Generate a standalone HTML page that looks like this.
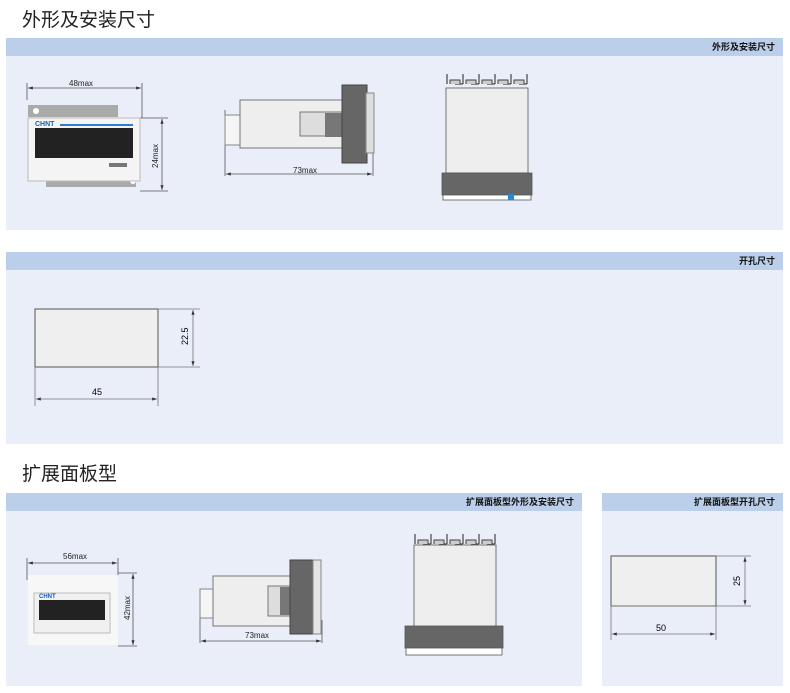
<!DOCTYPE html>
<html><head><meta charset="utf-8"><style>
*{margin:0;padding:0}
body{width:790px;height:693px;background:#fff;position:relative;overflow:hidden;font-family:"Liberation Sans","Noto Sans CJK SC",sans-serif}
.p{position:absolute;background:#e9eef8}
.h{position:absolute;left:0;right:0;top:0;height:18px;background:#bccfea;font-size:9px;font-weight:bold;text-align:right;padding-right:8px;line-height:18px;color:#111;box-sizing:border-box}
.t{position:absolute;font-size:19px;color:#222}
svg{position:absolute;left:0;top:0}
</style></head><body>
<div class="t" style="left:22px;top:5px">外形及安装尺寸</div>
<div class="p" style="left:6px;top:38px;width:777px;height:192px"><div class="h">外形及安装尺寸</div></div>
<div class="p" style="left:6px;top:252px;width:777px;height:192px"><div class="h">开孔尺寸</div></div>
<div class="t" style="left:22px;top:459px">扩展面板型</div>
<div class="p" style="left:6px;top:493px;width:576px;height:193px"><div class="h">扩展面板型外形及安装尺寸</div></div>
<div class="p" style="left:602px;top:493px;width:181px;height:193px"><div class="h">扩展面板型开孔尺寸</div></div>
<svg width="790" height="693" font-family="Liberation Sans, sans-serif" font-size="9">
<defs><marker id="a" markerWidth="6" markerHeight="4" refX="6" refY="2" orient="auto-start-reverse"><path d="M0,0L6,2L0,4z" fill="#333"/></marker>
<g id="pins"><path d="M0,12v-10M8,12h8M16,12v-10M24,12h8M32,12v-10M40,12h8M48,12v-10M56,12h8M64,12v-10M72,12h8M80,12v-10" stroke="#444" stroke-width="1.2" fill="none"/>
<path d="M3,12v-4h10v4M19,12v-4h10v4M35,12v-4h10v4M51,12v-4h10v4M67,12v-4h10v4" stroke="#444" fill="#ccc"/></g></defs>
<g stroke="#555" stroke-width="0.8" fill="none">
<line x1="27" y1="83" x2="27" y2="100"/><line x1="142" y1="83" x2="142" y2="118"/>
<line x1="28" y1="88" x2="141" y2="88" marker-start="url(#a)" marker-end="url(#a)"/>
<line x1="140" y1="118" x2="168" y2="118"/><line x1="140" y1="191" x2="168" y2="191"/>
<line x1="162" y1="119" x2="162" y2="190" marker-start="url(#a)" marker-end="url(#a)"/>
</g>
<path d="M28,105h90v12H28z M46,175h90v12H46z" fill="#aaa"/>
<circle cx="36" cy="111" r="3" fill="#fff"/><circle cx="133" cy="181" r="3" fill="#fff"/>
<rect x="28" y="118" width="112" height="63" fill="#f4f4f4" stroke="#bbb"/>
<rect x="35" y="128" width="98" height="30" fill="#222"/>
<rect x="60" y="124" width="73" height="2" fill="#2a7fd0"/>
<rect x="109" y="163" width="18" height="4" fill="#777"/>
<text x="35" y="126" font-size="7" font-weight="bold" fill="#1a5fb4">CHNT</text>
<text x="69" y="86" font-size="8" fill="#222">48max</text>
<text x="158" y="168" font-size="8" fill="#222" transform="rotate(-90 158 168)">24max</text>
<g stroke="#555" stroke-width="0.8" fill="none">
<line x1="225" y1="110" x2="225" y2="176"/><line x1="373" y1="150" x2="373" y2="176"/>
<line x1="226" y1="174" x2="372" y2="174" marker-start="url(#a)" marker-end="url(#a)"/>
</g>
<rect x="225" y="115" width="17" height="30" fill="#f5f5f5" stroke="#888"/>
<rect x="240" y="100" width="103" height="48" fill="#eee" stroke="#777"/>
<rect x="300" y="112" width="44" height="24" fill="#ddd" stroke="#777"/>
<rect x="325" y="113" width="28" height="24" fill="#777"/>
<rect x="342" y="85" width="25" height="78" fill="#666" stroke="#444"/>
<rect x="366" y="93" width="8" height="60" fill="#ddd" stroke="#888"/>
<text x="293" y="173" font-size="8" fill="#222">73max</text>
<use href="#pins" x="447" y="72"/>
<g stroke="#555" fill="#ddd" stroke-width="0.8">
<rect x="446" y="88" width="82" height="85" fill="#eee"/>
<rect x="442" y="173" width="90" height="22" fill="#666"/>
<rect x="443" y="195" width="88" height="5" fill="#fff"/>
</g>
<rect x="508" y="194" width="6" height="6" fill="#1f8ad8"/>
<rect x="35" y="309" width="123" height="58" fill="#efefef" stroke="#555"/>
<g stroke="#777" stroke-width="0.8" fill="none">
<line x1="158" y1="309" x2="200" y2="309"/><line x1="158" y1="367" x2="200" y2="367"/>
<line x1="35" y1="367" x2="35" y2="406"/><line x1="158" y1="367" x2="158" y2="406"/>
<line x1="193" y1="310" x2="193" y2="366" marker-start="url(#a)" marker-end="url(#a)"/>
<line x1="36" y1="399" x2="157" y2="399" marker-start="url(#a)" marker-end="url(#a)"/>
</g>
<text x="92" y="395" font-size="9">45</text>
<text x="188" y="345" font-size="9" transform="rotate(-90 188 345)">22.5</text>
<g stroke="#555" stroke-width="0.8" fill="none">
<line x1="27" y1="558" x2="27" y2="580"/><line x1="118" y1="558" x2="118" y2="575"/>
<line x1="28" y1="563" x2="117" y2="563" marker-start="url(#a)" marker-end="url(#a)"/>
<line x1="118" y1="573" x2="137" y2="573"/><line x1="118" y1="646" x2="137" y2="646"/>
<line x1="133" y1="574" x2="133" y2="645" marker-start="url(#a)" marker-end="url(#a)"/>
</g>
<rect x="28" y="575" width="90" height="70" fill="#f7f7f7"/>
<rect x="34" y="593" width="76" height="40" fill="#f0f0f0" stroke="#bbb"/>
<rect x="39" y="600" width="66" height="20" fill="#222"/>
<text x="39" y="598" font-size="6" font-weight="bold" fill="#1a5fb4">CHNT</text>
<text x="63" y="559" font-size="8" fill="#222">56max</text>
<text x="130" y="620" font-size="8" fill="#222" transform="rotate(-90 130 620)">42max</text>
<g stroke="#555" stroke-width="0.8" fill="none">
<line x1="200" y1="600" x2="200" y2="643"/><line x1="322" y1="620" x2="322" y2="643"/>
<line x1="201" y1="641" x2="321" y2="641" marker-start="url(#a)" marker-end="url(#a)"/>
</g>
<rect x="200" y="589" width="15" height="29" fill="#f5f5f5" stroke="#888"/>
<rect x="213" y="576" width="82" height="50" fill="#eee" stroke="#777"/>
<rect x="268" y="586" width="34" height="30" fill="#ddd" stroke="#777"/>
<rect x="280" y="587" width="22" height="28" fill="#777"/>
<rect x="290" y="560" width="23" height="74" fill="#666" stroke="#444"/>
<rect x="313" y="560" width="8" height="74" fill="#e5e5e5" stroke="#888"/>
<text x="245" y="638" font-size="8" fill="#222">73max</text>
<use href="#pins" x="415" y="532"/>
<g stroke="#555" stroke-width="0.8">
<rect x="414" y="545" width="82" height="91" fill="#eee"/>
<rect x="405" y="626" width="98" height="22" fill="#666"/>
<rect x="406" y="648" width="96" height="7" fill="#fff"/>
</g>
<rect x="611" y="556" width="105" height="50" fill="#efefef" stroke="#555"/>
<g stroke="#777" stroke-width="0.8" fill="none">
<line x1="716" y1="556" x2="751" y2="556"/><line x1="611" y1="606" x2="751" y2="606"/>
<line x1="611" y1="606" x2="611" y2="640"/><line x1="716" y1="606" x2="716" y2="640"/>
<line x1="745" y1="557" x2="745" y2="605" marker-start="url(#a)" marker-end="url(#a)"/>
<line x1="612" y1="634" x2="715" y2="634" marker-start="url(#a)" marker-end="url(#a)"/>
</g>
<text x="656" y="631" font-size="9">50</text>
<text x="740" y="586" font-size="9" transform="rotate(-90 740 586)">25</text>
</svg>
</body></html>
